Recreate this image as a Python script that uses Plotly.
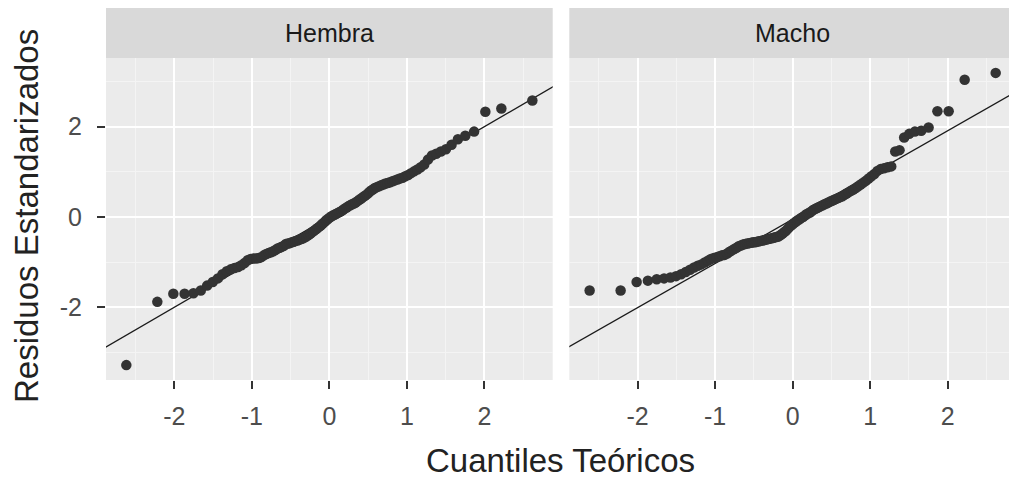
import plotly.graph_objects as go
from statistics import NormalDist

# ---- data: sorted standardized residuals ----
panels = ["Hembra", "Macho"]

hembra_resid = [
    -3.28, -1.88, -1.70, -1.70, -1.69, -1.63, -1.52, -1.44, -1.36, -1.27,
    -1.20, -1.16, -1.13, -1.11, -1.07, -1.02, -0.96, -0.93, -0.92, -0.92,
    -0.91, -0.89, -0.85, -0.82, -0.80, -0.78, -0.76, -0.73, -0.70, -0.68,
    -0.66, -0.64, -0.60, -0.59, -0.58, -0.56, -0.55, -0.53, -0.52, -0.50,
    -0.49, -0.47, -0.45, -0.43, -0.40, -0.37, -0.34, -0.31, -0.28, -0.25,
    -0.22, -0.19, -0.15, -0.12, -0.08, -0.05, -0.02, 0.01, 0.03, 0.05,
    0.07, 0.09, 0.11, 0.13, 0.16, 0.19, 0.21, 0.24, 0.26, 0.28,
    0.30, 0.32, 0.35, 0.38, 0.41, 0.44, 0.47, 0.50, 0.54, 0.58,
    0.61, 0.64, 0.66, 0.68, 0.70, 0.72, 0.74, 0.75, 0.77, 0.79,
    0.81, 0.83, 0.85, 0.87, 0.90, 0.93, 0.97, 1.01, 1.05, 1.10,
    1.16, 1.27, 1.36, 1.40, 1.45, 1.50, 1.60, 1.72, 1.80, 1.89,
    2.33, 2.40, 2.58,
]

macho_resid = [
    -1.63, -1.63, -1.44, -1.41, -1.38, -1.36, -1.34, -1.31, -1.27, -1.22,
    -1.17, -1.12, -1.08, -1.05, -1.01, -0.97, -0.93, -0.91, -0.89, -0.87,
    -0.85, -0.84, -0.81, -0.77, -0.74, -0.71, -0.68, -0.65, -0.63, -0.61,
    -0.60, -0.59, -0.58, -0.57, -0.56, -0.56, -0.55, -0.54, -0.53, -0.52,
    -0.51, -0.50, -0.49, -0.48, -0.47, -0.46, -0.45, -0.44, -0.43, -0.40,
    -0.37, -0.34, -0.31, -0.27, -0.23, -0.19, -0.16, -0.13, -0.10, -0.07,
    -0.05, -0.02, 0.00, 0.03, 0.06, 0.08, 0.10, 0.13, 0.16, 0.18,
    0.20, 0.22, 0.24, 0.26, 0.28, 0.30, 0.32, 0.34, 0.36, 0.38,
    0.40, 0.42, 0.44, 0.46, 0.49, 0.52, 0.55, 0.58, 0.61, 0.64,
    0.68, 0.72, 0.76, 0.80, 0.85, 0.90, 0.95, 1.02, 1.06, 1.08,
    1.10, 1.12, 1.45, 1.48, 1.76, 1.84, 1.89, 1.91, 1.98, 2.34,
    2.34, 3.04, 3.19,
]

# reference line (intercept, slope) per panel
line_intercept = [0.00, -0.05]
line_slope = [1.00, 0.98]

x_ticks = [-2, -1, 0, 1, 2]
x_minor = [-2.5, -1.5, -0.5, 0.5, 1.5, 2.5]
y_ticks = [-2, 0, 2]
y_minor = [-3, -1, 1, 3]

# ---- stat_qq: theoretical normal quantiles ----
def theo_quantiles(n):
    nd = NormalDist()
    return [nd.inv_cdf((i - 0.5) / n) for i in range(1, n + 1)]

FONT = "Liberation Sans, Arial, sans-serif"
W, H = 1009, 482
L, R, T, B = 106, 0, 58, 102
plot_w = W - L - R
plot_h = H - T - B
p1 = (106.0, 552.7)
p2 = (569.3, 1009.0)
x_dom = [[(p1[0] - L) / plot_w, (p1[1] - L) / plot_w],
         [(p2[0] - L) / plot_w, (p2[1] - L) / plot_w]]

XR = [-2.88, 2.88]
unit = (p1[1] - p1[0]) / (XR[1] - XR[0])
XR2 = [XR[0], XR[0] + (p2[1] - p2[0]) / unit]   # right panel is clipped by the image edge
YR = [-3.61, 3.52]

fig = go.Figure()
for k, (name, resid) in enumerate(zip(panels, [hembra_resid, macho_resid])):
    xs = theo_quantiles(len(resid))
    ax = "" if k == 0 else "2"
    lx = [XR[0] - 0.2, XR[1] + 0.2]
    fig.add_trace(go.Scatter(
        x=lx, y=[line_intercept[k] + line_slope[k] * v for v in lx],
        mode="lines", line=dict(color="#1a1a1a", width=1.3),
        xaxis="x" + ax, yaxis="y" + ax, showlegend=False, hoverinfo="skip"))
    fig.add_trace(go.Scatter(
        x=xs, y=resid, mode="markers",
        marker=dict(color="#333333", size=10.5, line=dict(width=0)),
        xaxis="x" + ax, yaxis="y" + ax, showlegend=False, name=name))

def xaxis(rng, dom, anchor):
    return dict(
        domain=dom, anchor=anchor, range=rng,
        tickvals=x_ticks, ticktext=[str(v) for v in x_ticks],
        showgrid=True, gridcolor="white", gridwidth=2.4,
        minor=dict(tickvals=x_minor, showgrid=True,
                   gridcolor="#f4f4f4", gridwidth=1.2, ticks=""),
        zeroline=False, ticks="outside", ticklen=8, tickwidth=2, tickcolor="#333333",
        ticklabelstandoff=6,
        tickfont=dict(family=FONT, size=25, color="#4d4d4d"),
        showline=False, fixedrange=True,
    )

def yaxis(anchor, labels):
    return dict(
        domain=[0, 1], anchor=anchor, range=YR,
        tickvals=y_ticks, ticktext=[str(v) for v in y_ticks],
        showticklabels=labels,
        showgrid=True, gridcolor="white", gridwidth=2.4,
        minor=dict(tickvals=y_minor, showgrid=True,
                   gridcolor="#f4f4f4", gridwidth=1.2, ticks=""),
        zeroline=False, ticks="outside" if labels else "", ticklen=8, tickwidth=2,
        tickcolor="#333333", ticklabelstandoff=10,
        tickfont=dict(family=FONT, size=25, color="#4d4d4d"),
        showline=False, fixedrange=True,
    )

fig.update_layout(
    width=W, height=H,
    margin=dict(l=L, r=R, t=T, b=B, pad=0),
    paper_bgcolor="white", plot_bgcolor="#ebebeb",
    xaxis=xaxis(XR, x_dom[0], "y"),
    xaxis2=xaxis(XR2, x_dom[1], "y2"),
    yaxis=yaxis("x", True),
    yaxis2=yaxis("x2", False),
)

shapes = []
annotations = []
strip_h = (58 - 8) / plot_h
for k, name in enumerate(panels):
    d = x_dom[k]
    shapes.append(dict(type="rect", xref="paper", yref="paper",
                       x0=d[0], x1=d[1], y0=1, y1=1 + strip_h,
                       fillcolor="#d9d9d9", line=dict(width=0), layer="below"))
    cx = (p1[0] + p1[1]) / 2 if k == 0 else (p2[0] + (p2[0] + (p1[1] - p1[0]))) / 2
    annotations.append(dict(text=name, xref="paper", yref="paper",
                            x=(cx - L) / plot_w, y=1 + (58 - 33) / plot_h,
                            showarrow=False, xanchor="center", yanchor="middle",
                            font=dict(family=FONT, size=25, color="#1a1a1a")))

annotations.append(dict(text="Cuantiles Teóricos", xref="paper", yref="paper",
                        x=(560 - L) / plot_w, y=-(460 - 380) / plot_h, showarrow=False,
                        xanchor="center", yanchor="middle",
                        font=dict(family=FONT, size=33, color="#222222")))
annotations.append(dict(text="Residuos Estandarizados", xref="paper", yref="paper",
                        x=-(106 - 26) / plot_w, y=(380 - 216) / plot_h, textangle=-90,
                        showarrow=False, xanchor="center", yanchor="middle",
                        font=dict(family=FONT, size=33, color="#222222")))
fig.update_layout(shapes=shapes, annotations=annotations)

fig.write_html("out.html")
